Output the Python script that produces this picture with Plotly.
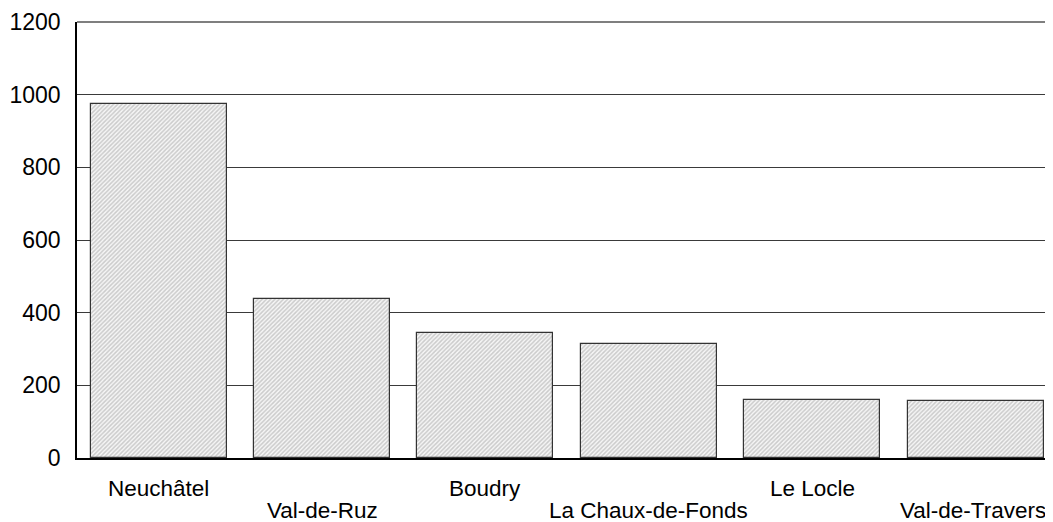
import plotly.graph_objects as go

categories = ["Neuchâtel", "Val-de-Ruz", "Boudry", "La Chaux-de-Fonds", "Le Locle", "Val-de-Travers"]
values = [974, 437, 344, 313, 161, 158]
y_ticks = [0, 200, 400, 600, 800, 1000, 1200]

x_idx = list(range(len(categories)))
FONT = "Liberation Sans, Arial"

fig = go.Figure()
fig.add_trace(go.Bar(
    x=x_idx, y=values, width=0.833,
    marker=dict(
        color="#f0f0f0",
        line=dict(color="#333333", width=1.2),
        pattern=dict(shape="/", fgcolor="#a0a0a0", bgcolor="#f6f6f6", size=3, solidity=0.5),
    ),
    showlegend=False,
))

for i, c in enumerate(categories):
    fig.add_annotation(
        x=i, y=0, xref="x", yref="paper",
        text=c, showarrow=False,
        xanchor="center", yanchor="middle",
        yshift=-30 if i % 2 == 0 else -52,
        xshift=-3 if i == len(categories) - 1 else 0,
        font=dict(family=FONT, size=22.5, color="#000"),
    )

# top border line of the plot area
fig.add_shape(type="line", xref="paper", yref="paper", x0=0, x1=1, y0=1, y1=1,
              line=dict(color="#000", width=1.2))

fig.update_layout(
    width=1045, height=514,
    margin=dict(l=69, r=0, t=14, b=64),
    paper_bgcolor="white", plot_bgcolor="white",
    bargap=0,
    font=dict(family=FONT, size=23, color="#000"),
    xaxis=dict(
        range=[-0.5, 5.474], showticklabels=False, showgrid=False, zeroline=False,
        showline=True, linecolor="#000", linewidth=2, ticks="",
    ),
    yaxis=dict(
        range=[0, 1200], tickvals=y_ticks, ticktext=[str(v) for v in y_ticks],
        showgrid=True, gridcolor="#3a3a3a", gridwidth=1,
        zeroline=False, showline=True, linecolor="#000", linewidth=1.5,
        ticks="", ticklabelstandoff=10,
        tickfont=dict(family=FONT, size=23),
    ),
)

fig.write_html("out.html")
